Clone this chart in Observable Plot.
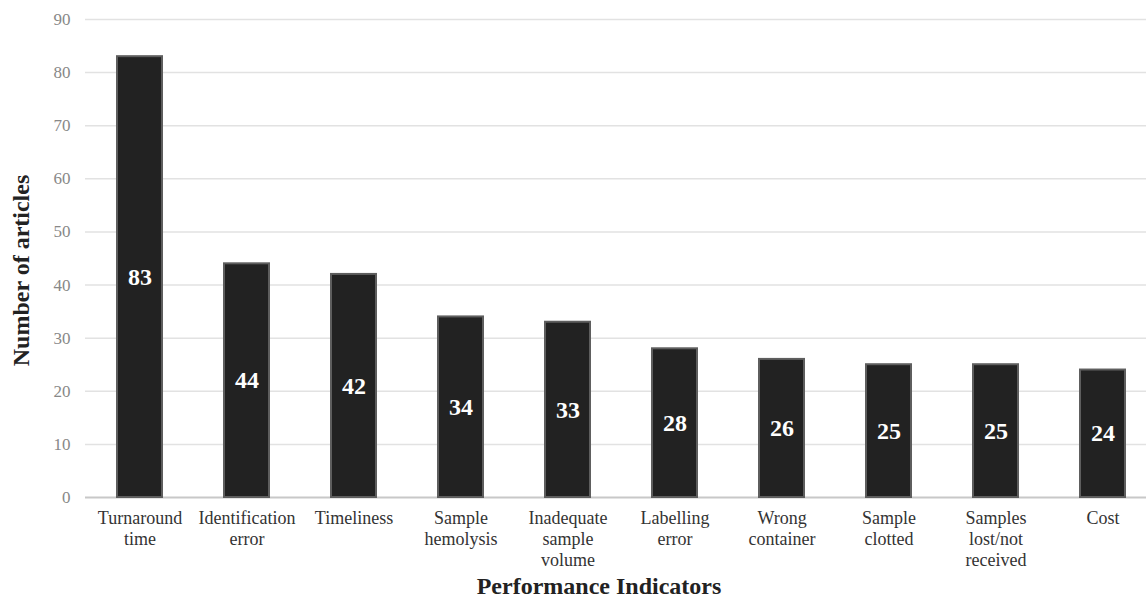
<!DOCTYPE html>
<html>
<head>
<meta charset="utf-8">
<script src="https://cdn.jsdelivr.net/npm/d3@7"></script>
<script src="https://cdn.jsdelivr.net/npm/@observablehq/plot@0.6"></script>
<style>
  html, body { margin: 0; padding: 0; background: #fff; }
  svg { display: block; }
</style>
</head>
<body>
<div id="chart"></div>
<script>
const categories = ["Turnaround time", "Identification error", "Timeliness", "Sample hemolysis", "Inadequate sample volume", "Labelling error", "Wrong container", "Sample clotted", "Samples lost/not received", "Cost"];
const tickLabels = ["Turnaround\ntime", "Identification\nerror", "Timeliness", "Sample\nhemolysis", "Inadequate\nsample\nvolume", "Labelling\nerror", "Wrong\ncontainer", "Sample\nclotted", "Samples\nlost/not\nreceived", "Cost"];
const counts = [83, 44, 42, 34, 33, 28, 26, 25, 25, 24];
const yTicks = [0, 10, 20, 30, 40, 50, 60, 70, 80, 90];
const xTitle = "Performance Indicators";
const yTitle = "Number of articles";

const data = categories.map((c, i) => ({category: c, value: counts[i]}));
const labelOf = new Map(categories.map((c, i) => [c, tickLabels[i]]));

const serif = "'Liberation Serif', 'Times New Roman', serif";

const chart = Plot.plot({
  width: 1146,
  height: 597,
  marginLeft: 85,
  marginRight: 0,
  marginTop: 19,
  marginBottom: 100,
  style: {fontFamily: serif, background: "#fff"},
  x: {domain: categories, range: [84, 1157], paddingInner: 0.58, paddingOuter: 0.29},
  y: {domain: [0, 90]},
  marks: [
    Plot.gridY(yTicks.filter(d => d > 0), {stroke: "#e2e2e2", strokeOpacity: 1, strokeWidth: 1.5}),
    Plot.ruleY([0], {stroke: "#c8c8c8", strokeWidth: 2}),
    Plot.barY(data, {x: "category", y: "value", fill: "#222222", stroke: "#5e5e5e", strokeWidth: 2}),
    Plot.text(data, {x: "category", y: d => d.value / 2, text: d => String(d.value), fill: "#ffffff", fontSize: 24, fontWeight: "bold", fontFamily: serif}),
    Plot.axisY({ticks: yTicks, tickSize: 0, tickPadding: 15, fontSize: 17, fontFamily: serif, color: "#888888", label: null}),
    Plot.axisX({tickSize: 0, tickPadding: 11, fontSize: 18, fontFamily: serif, lineHeight: 1.18, color: "#333333", tickFormat: d => labelOf.get(d), label: null}),
    Plot.text([yTitle], {frameAnchor: "left", textAnchor: "middle", rotate: -90, dx: -64, dy: 12, fontSize: 24, fontWeight: "bold", fontFamily: serif, fill: "#222222"}),
    Plot.text([xTitle], {frameAnchor: "bottom", dx: -17, dy: 96, fontSize: 24, fontWeight: "bold", fontFamily: serif, fill: "#222222"})
  ]
});
document.getElementById("chart").appendChild(chart);
</script>
</body>
</html>
